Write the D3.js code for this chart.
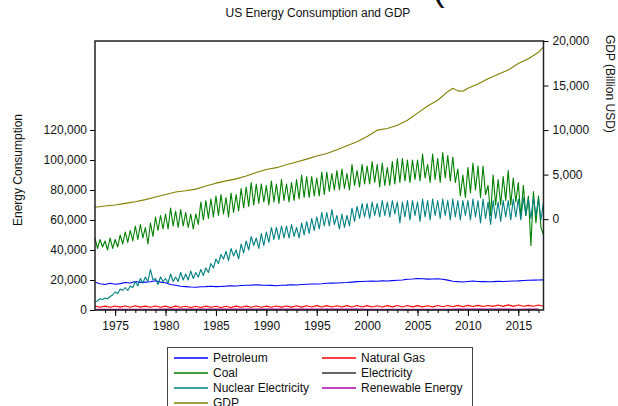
<!DOCTYPE html>
<html>
<head>
<meta charset="utf-8">
<script src="https://cdn.jsdelivr.net/npm/d3@7"></script>
<style>
  body { margin: 0; background: #fff; }
  text { font-family: "Liberation Sans", Arial, sans-serif; fill: #111; }
</style>
</head>
<body>
<div id="chart"></div>
<script>
// quarterly readings (Jan, Apr, Jul, Oct), starting Jan 1973
const coal = [
  48000, 41000, 47000, 42000,  46000, 40000, 48000, 41000,  47000, 42000, 50000, 44000,
  52000, 45000, 53000, 46000,  56000, 47000, 57000, 48000,  55000, 44000, 58000, 49000,
  62000, 53000, 63000, 54000,  64000, 54000, 68000, 56000,  66000, 55000, 67000, 56000,
  65000, 55000, 64000, 54000,  64000, 57000, 72000, 60000,  73000, 61000, 74000, 62000,
  76000, 63000, 77000, 64000,  75000, 62000, 78000, 65000,  77000, 66000, 81000, 68000,
  82000, 69000, 85000, 70000,  84000, 71000, 84000, 72000,  83000, 70000, 86000, 72000,
  84000, 71000, 87000, 73000,  84000, 72000, 85000, 73000,  87000, 74000, 90000, 75000,
  89000, 75000, 89000, 76000,  88000, 76000, 92000, 77000,  92000, 79000, 91000, 80000,
  93000, 80000, 94000, 81000,  91000, 80000, 97000, 83000,  93000, 82000, 97000, 84000,
  96000, 84000, 99000, 85000,  97000, 82000, 98000, 83000,  95000, 83000, 99000, 84000,
  101000, 85000, 101000, 86000, 100000, 85000, 100000, 87000, 100000, 86000, 104000, 88000,
  97000, 85000, 104000, 87000, 101000, 85000, 105000, 88000, 103000, 86000, 102000, 85000,
  94000, 76000, 90000, 75000,  95000, 78000, 98000, 80000,  96000, 75000, 96000, 77000,
  83000, 63000, 90000, 70000,  87000, 70000, 89000, 73000,  93000, 70000, 88000, 72000,
  85000, 62000, 83000, 63000,  76000, 43000, 79000, 58000,  76000, 55000, 50000
];
const nuclear = [
  5500, 6000, 7500, 7000,  8000, 7500, 9000, 10000,  12000, 11000, 14000, 13000,
  15000, 13000, 16000, 15000,  19000, 16000, 21000, 18000,  22000, 19000, 27000, 20000,
  21000, 17000, 22000, 19000,  21000, 18000, 24000, 19000,  22000, 19000, 25000, 20000,
  24000, 20000, 26000, 21000,  25000, 22000, 27000, 23000,  28000, 25000, 31000, 28000,
  34000, 31000, 37000, 34000,  39000, 33000, 41000, 36000,  40000, 34000, 44000, 38000,
  46000, 40000, 49000, 43000,  48000, 41000, 51000, 43000,  52000, 45000, 55000, 47000,
  55000, 47000, 56000, 48000,  56000, 48000, 57000, 49000,  55000, 48000, 58000, 50000,
  59000, 51000, 61000, 53000,  62000, 54000, 65000, 56000,  65000, 56000, 67000, 57000,
  63000, 54000, 64000, 55000,  63000, 56000, 68000, 59000,  69000, 61000, 71000, 62000,
  71000, 61000, 72000, 63000,  71000, 62000, 73000, 63000,  72000, 62000, 73000, 64000,
  72000, 58000, 72000, 62000,  73000, 60000, 73000, 63000,  72000, 59000, 74000, 62000,
  73000, 60000, 74000, 63000,  73000, 61000, 74000, 63000,  73000, 60000, 74000, 62000,
  73000, 60000, 73000, 63000,  73000, 60000, 74000, 62000,  73000, 58000, 74000, 61000,
  72000, 57000, 73000, 61000,  72000, 59000, 73000, 62000,  73000, 60000, 74000, 62000,
  74000, 60000, 75000, 63000,  74000, 61000, 75000, 63000,  74000, 60000, 72000
];
// half-yearly readings (Jan, Jul), starting Jan 1973
const petroleum = [
  18500, 17500, 17000, 17800, 17200, 17600, 18300, 18000, 19000, 18400,
  18600, 18800, 19500, 18600, 18200, 17000, 16500, 15800, 15600, 15300,
  15200, 15500, 15600, 15800, 15600, 15700, 15900, 16200, 16000, 16300,
  16500, 16600, 16800, 16600, 16500, 16400, 16200, 16500, 16600, 16800,
  16700, 17000, 17200, 17300, 17300, 17500, 17800, 17900, 18000, 18200,
  18300, 18600, 18900, 19000, 19200, 19300, 19200, 19400, 19300, 19600,
  19800, 20000, 20500, 20700, 21000, 20800, 20600, 20700, 20800, 20500,
  19900, 19200, 18900, 18700, 19000, 19300, 19000, 18900, 18800, 18900,
  19100, 19000, 19200, 19300, 19400, 19700, 19800, 19900, 20000, 20100
];
const naturalGas = [
  2700, 1800, 2600, 1800, 2700, 1900, 2700, 1800, 2800, 1900,
  2600, 1800, 2700, 1800, 2600, 1700, 2600, 1800, 2500, 1700,
  2500, 1700, 2600, 1800, 2500, 1700, 2500, 1700, 2600, 1800,
  2600, 1800, 2700, 1800, 2600, 1800, 2700, 1900, 2700, 1900,
  2800, 1900, 2800, 2000, 2900, 2000, 2900, 2000, 2800, 2000,
  2900, 2000, 3000, 2000, 2900, 2000, 2800, 2000, 2900, 2100,
  3000, 2000, 3000, 2100, 2900, 2100, 2800, 2100, 3000, 2200,
  3000, 2200, 3100, 2200, 3100, 2300, 3100, 2300, 3000, 2400,
  3300, 2400, 3400, 2400, 3300, 2500, 3100, 2500, 3300, 2500
];
// yearly readings, 1973 to 2017
const electricity = [
  200, 200, 200, 200, 200, 200, 200, 200, 200, 200,
  200, 200, 200, 200, 200, 200, 200, 200, 200, 200,
  200, 200, 200, 200, 200, 200, 200, 200, 200, 200,
  200, 200, 200, 200, 200, 200, 200, 200, 200, 200,
  200, 200, 200, 200, 200
];
const renewable = [
  500, 550, 520, 500, 480, 520, 550, 560, 580, 620,
  650, 660, 640, 650, 600, 560, 620, 600, 590, 570,
  600, 580, 620, 650, 660, 600, 580, 520, 440, 480,
  500, 500, 510, 540, 480, 520, 560, 560, 620, 560,
  560, 560, 520, 620, 700
];
const gdpYears = [
  1973, 1974, 1975, 1976, 1977, 1978, 1979, 1980, 1981, 1982,
  1983, 1984, 1985, 1986, 1987, 1988, 1989, 1990, 1991, 1992,
  1993, 1994, 1995, 1996, 1997, 1998, 1999, 2000, 2001, 2002,
  2003, 2004, 2005, 2006, 2007, 2008, 2008.5, 2009, 2009.5, 2010,
  2011, 2012, 2013, 2014, 2015, 2016, 2017, 2017.5
];
const gdp = [
  1330, 1480, 1590, 1770, 1960, 2190, 2490, 2760, 3050, 3190,
  3370, 3720, 4040, 4300, 4520, 4850, 5240, 5580, 5780, 6100,
  6420, 6740, 7080, 7380, 7800, 8240, 8680, 9280, 9990, 10180,
  10550, 11100, 11900, 12700, 13350, 14310, 14700, 14400, 14350, 14700,
  15170, 15770, 16260, 16750, 17480, 18000, 18730, 19350
];

const leftTicks = [0, 20000, 40000, 60000, 80000, 100000, 120000];
const rightTicks = [0, 5000, 10000, 15000, 20000];
const yearLabels = [1975, 1980, 1985, 1990, 1995, 2000, 2005, 2010, 2015];

const W = 618, H = 406;
const plot = { left: 95, right: 543.5, top: 41, bottom: 310 };

const svg = d3.select("#chart").append("svg")
    .attr("width", W)
    .attr("height", H);

const x = d3.scaleLinear().domain([1973, 2017.5]).range([plot.left, plot.right]);
const yL = d3.scaleLinear().domain([0, 179300]).range([plot.bottom, plot.top]);
const yR = d3.scaleLinear().domain([-10200, 20000]).range([plot.bottom, plot.top]);

const quarterly = arr => arr.map((v, i) => ({ t: 1973 + i / 4, v }));
const halfYearly = arr => arr.map((v, i) => ({ t: 1973 + i / 2, v }));
const yearly = arr => arr.map((v, i) => ({ t: 1973 + i, v }));

const series = [
  { name: "Petroleum", color: "#0000ff", data: halfYearly(petroleum), y: yL },
  { name: "Natural Gas", color: "#ff0000", data: halfYearly(naturalGas), y: yL },
  { name: "Coal", color: "#008000", data: quarterly(coal), y: yL },
  { name: "Electricity", color: "#333333", data: yearly(electricity), y: yL },
  { name: "Nuclear Electricity", color: "#008080", data: quarterly(nuclear), y: yL },
  { name: "Renewable Energy", color: "#b000b0", data: yearly(renewable), y: yL },
  { name: "GDP", color: "#808000", data: gdpYears.map((t, i) => ({ t, v: gdp[i] })), y: yR }
];

// leftover of a larger heading above the frame, only its lower tip shows
svg.append("text")
    .attr("x", 432).attr("y", 0)
    .style("font-size", "38px")
    .text("(");

// title
svg.append("text")
    .attr("x", 318).attr("y", 17)
    .attr("text-anchor", "middle")
    .style("font-size", "12px")
    .text("US Energy Consumption and GDP");

// lines
const g = svg.append("g");
series.forEach(s => {
  const line = d3.line().x(d => x(d.t)).y(d => s.y(d.v));
  g.append("path")
      .datum(s.data)
      .attr("fill", "none")
      .attr("stroke", s.color)
      .attr("stroke-width", 1.1)
      .attr("stroke-linejoin", "round")
      .attr("d", line);
});

// frame
svg.append("rect")
    .attr("x", plot.left).attr("y", plot.top)
    .attr("width", plot.right - plot.left)
    .attr("height", plot.bottom - plot.top)
    .attr("fill", "none")
    .attr("stroke", "#222")
    .attr("stroke-width", 1.5);

// left axis
const axL = svg.append("g")
    .attr("transform", `translate(${plot.left},0)`)
    .call(d3.axisLeft(yL).tickValues(leftTicks).tickSize(5).tickPadding(3).tickFormat(d3.format(",")));
axL.select(".domain").remove();
axL.selectAll("text").style("font-size", "12px").style("font-family", null);

// right axis
const axR = svg.append("g")
    .attr("transform", `translate(${plot.right},0)`)
    .call(d3.axisRight(yR).tickValues(rightTicks).tickSize(5).tickPadding(4).tickFormat(d3.format(",")));
axR.select(".domain").remove();
axR.selectAll("text").style("font-size", "12px").style("font-family", null);

// bottom axis: yearly minor ticks, labelled 5-year ticks
const axB = svg.append("g")
    .attr("transform", `translate(0,${plot.bottom})`)
    .call(d3.axisBottom(x).tickValues(d3.range(1974, 2018)).tickSize(3).tickFormat(""));
axB.select(".domain").remove();
const axB2 = svg.append("g")
    .attr("transform", `translate(0,${plot.bottom})`)
    .call(d3.axisBottom(x).tickValues(yearLabels).tickSize(6).tickPadding(5).tickFormat(d3.format("d")));
axB2.select(".domain").remove();
axB2.selectAll("text").style("font-size", "12px").style("font-family", null);

// axis titles
svg.append("text")
    .attr("transform", "translate(22,170) rotate(-90)")
    .attr("text-anchor", "middle")
    .style("font-size", "12px")
    .text("Energy Consumption");
svg.append("text")
    .attr("transform", "translate(606,35) rotate(90)")
    .attr("text-anchor", "start")
    .style("font-size", "12px")
    .text("GDP (Billion USD)");

// legend
const legend = svg.append("g");
legend.append("rect")
    .attr("x", 167.5).attr("y", 347.5)
    .attr("width", 305).attr("height", 70)
    .attr("fill", "#fff")
    .attr("stroke", "#444")
    .attr("stroke-width", 1);
series.forEach((s, i) => {
  const col = i % 2, row = Math.floor(i / 2);
  const lx = col === 0 ? 174 : 322;
  const ly = 358 + row * 15;
  legend.append("line")
      .attr("x1", lx).attr("x2", lx + 34)
      .attr("y1", ly).attr("y2", ly)
      .attr("stroke", s.color)
      .attr("stroke-width", 1.6);
  legend.append("text")
      .attr("x", lx + 39).attr("y", ly + 4)
      .style("font-size", "12px")
      .text(s.name);
});
</script>
</body>
</html>
